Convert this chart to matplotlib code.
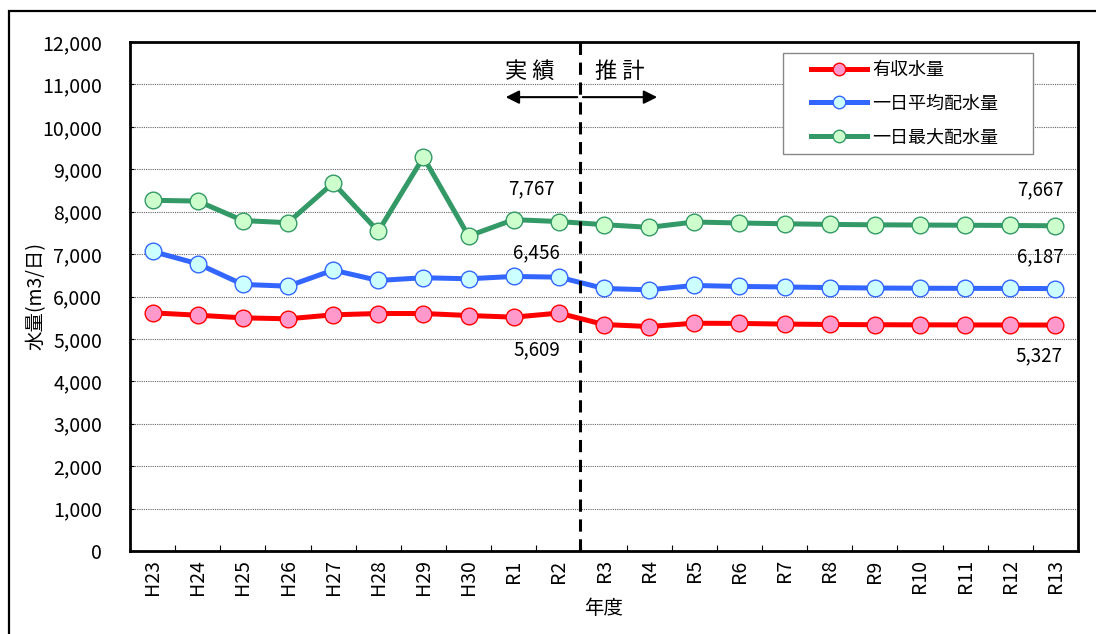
import matplotlib
matplotlib.use("Agg")
import matplotlib.pyplot as plt
from matplotlib.patches import Rectangle
from matplotlib.ticker import FuncFormatter, FixedLocator
from matplotlib.legend_handler import HandlerLine2D

plt.rcParams['font.family'] = ['Noto Sans CJK JP', 'DejaVu Sans']

years = ["H23", "H24", "H25", "H26", "H27", "H28", "H29", "H30", "R1", "R2",
         "R3", "R4", "R5", "R6", "R7", "R8", "R9", "R10", "R11", "R12", "R13"]
revenue = [5615, 5559, 5497, 5474, 5568, 5599, 5599, 5552, 5513, 5609,
           5339, 5292, 5370, 5365, 5350, 5340, 5335, 5332, 5330, 5328, 5327]
avg_daily = [7063, 6772, 6284, 6244, 6622, 6378, 6442, 6418, 6473, 6456,
             6189, 6158, 6260, 6237, 6225, 6210, 6200, 6195, 6192, 6190, 6187]
max_daily = [8268, 8250, 7790, 7740, 8677, 7536, 9284, 7425, 7812, 7767,
             7694, 7630, 7756, 7733, 7715, 7700, 7690, 7685, 7680, 7675, 7667]
series_names = ["有収水量", "一日平均配水量", "一日最大配水量"]


class ShiftedLine(HandlerLine2D):
    def get_xdata(self, legend, xdescent, ydescent, width, height, fontsize):
        x0 = -xdescent + width * 0.26
        x1 = -xdescent + width
        return [x0, x1], [(x0 + x1) / 2]


fig = plt.figure(figsize=(10.96, 6.34), dpi=100)
ax = fig.add_axes([130/1096, 1-551/634, (1078-130)/1096, (551-42)/634])

# outer frame
fig.patches.append(Rectangle((9/1096, -0.05), 1.2, 1-11/634+0.05, transform=fig.transFigure,
                             fill=False, edgecolor='black', linewidth=1.6, zorder=0))

x = list(range(len(years)))
styles = [
    (revenue, '#FF0000', '#FF99CC'),
    (avg_daily, '#3366FF', '#CCFFFF'),
    (max_daily, '#339966', '#CCFFCC'),
]
lines = []
for (vals, lc, fc), name in zip(styles, series_names):
    ln, = ax.plot(x, vals, color=lc, linewidth=3.6, marker='o', markersize=12,
                  markerfacecolor=fc, markeredgecolor=lc, markeredgewidth=1.0,
                  label=name, zorder=3)
    lines.append(ln)

ax.set_xlim(-0.5, len(years) - 0.5)
ax.set_ylim(0, 12000)
ax.yaxis.set_major_locator(FixedLocator(range(0, 12001, 1000)))
ax.yaxis.set_major_formatter(FuncFormatter(lambda v, p: f"{int(v):,}"))
ax.set_xticks(x)
ax.set_xticklabels(years, rotation=90, fontsize=14)
ax.set_xticks([i + 0.5 for i in range(len(years) - 1)], minor=True)
ax.tick_params(axis='x', which='major', length=0, pad=6)
ax.tick_params(axis='x', which='minor', direction='in', length=4, width=0.8)
ax.tick_params(axis='y', direction='in', length=3, labelsize=14, pad=20)
ax.grid(axis='y', color='#666666', linestyle=(0, (1, 1)), linewidth=0.8)
ax.set_axisbelow(True)
for s in ax.spines.values():
    s.set_linewidth(2)

ax.set_ylabel("水量(m3/日)", fontsize=14, labelpad=-3)
ax.set_xlabel("年度", fontsize=14, labelpad=2)

# boundary between actual and forecast
ax.axvline(9.47, color='black', linewidth=2.2, linestyle=(0, (4, 2.5)), zorder=4)
ax.annotate('', xy=(7.76, 10700), xytext=(9.47, 10700),
            arrowprops=dict(arrowstyle='-|>', color='black', lw=1.5, mutation_scale=20))
ax.annotate('', xy=(11.24, 10700), xytext=(9.47, 10700),
            arrowprops=dict(arrowstyle='-|>', color='black', lw=1.5, mutation_scale=20))
ax.text(8.36, 11316, "実 績", ha='center', va='center', fontsize=16)
ax.text(10.35, 11316, "推 計", ha='center', va='center', fontsize=16)

# value labels
i2 = years.index("R2")
iL = len(years) - 1
fs = 13.5
ax.annotate(f"{max_daily[i2]:,}", (i2, max_daily[i2]), xytext=(-4, 33),
            textcoords='offset pixels', ha='right', va='center', fontsize=fs)
ax.annotate(f"{avg_daily[i2]:,}", (i2, avg_daily[i2]), xytext=(1, 24),
            textcoords='offset pixels', ha='right', va='center', fontsize=fs)
ax.annotate(f"{revenue[i2]:,}", (i2, revenue[i2]), xytext=(1, -37),
            textcoords='offset pixels', ha='right', va='center', fontsize=fs)
ax.annotate(f"{max_daily[iL]:,}", (iL, max_daily[iL]), xytext=(8, 36),
            textcoords='offset pixels', ha='right', va='center', fontsize=fs)
ax.annotate(f"{avg_daily[iL]:,}", (iL, avg_daily[iL]), xytext=(8, 32),
            textcoords='offset pixels', ha='right', va='center', fontsize=fs)
ax.annotate(f"{revenue[iL]:,}", (iL, revenue[iL]), xytext=(7, -31),
            textcoords='offset pixels', ha='right', va='center', fontsize=fs)

leg = ax.legend(handles=lines, loc='upper left',
                bbox_to_anchor=(783/1096, 1-157/634, 250/1096, 104/634),
                bbox_transform=fig.transFigure, mode='expand', fontsize=13,
                handlelength=4.2, labelspacing=0.86, borderpad=0.45,
                fancybox=False, framealpha=1, edgecolor='#888888',
                handletextpad=0.3, borderaxespad=0,
                handler_map={l: ShiftedLine() for l in lines})
leg.get_frame().set_linewidth(1.0)
for h in leg.legend_handles:
    h.set_markersize(9)

fig.savefig("out.png", dpi=100)
